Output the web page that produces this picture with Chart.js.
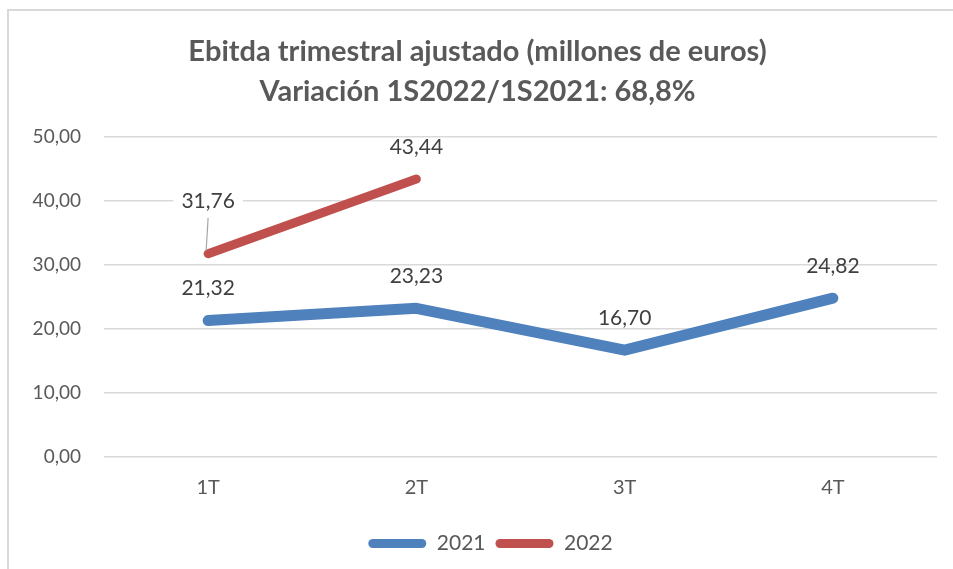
<!DOCTYPE html>
<html>
<head>
<meta charset="utf-8">
<script src="https://cdn.jsdelivr.net/npm/chart.js@4.4.1/dist/chart.umd.min.js"></script>
<style>
  html, body { margin: 0; padding: 0; background: #fff; overflow: hidden; }
  #frame {
    position: absolute; left: 7px; top: 9px;
    width: 1000px; height: 600px;
    border: 2px solid #d9d9d9;
  }
  #wrap { position: absolute; left: 0; top: 0; width: 953px; height: 569px; }
</style>
</head>
<body>
<div id="frame"></div>
<div id="wrap"><canvas id="chart"></canvas></div>
<script>
// Quarterly adjusted EBITDA.
const quarters = ['1T', '2T', '3T', '4T'];
const ebitda2021 = [21.32, 23.23, 16.70, 24.82];
const ebitda2022 = [31.76, 43.44, null, null];
const yTicks = [0, 10, 20, 30, 40, 50];
const titleLines = ['Ebitda trimestral ajustado (millones de euros)', 'Variación 1S2022/1S2021: 68,8%'];

const FONT = 'Lato, "Open Sans", sans-serif';
const fmt = v => v.toFixed(2).replace('.', ',');

// Draws the value labels above each point (Excel style).
// 2022 first point has a pulled-out label with a leader line.
const valueLabels = {
  id: 'valueLabels',
  afterLayout(chart) {
    // the original title and legend sit a bit right of centre
    if (chart.legend) chart.legend.left += 44;
    if (chart.titleBlock) chart.titleBlock.left += 18;
  },
  afterDatasetsDraw(chart) {
    const ctx = chart.ctx;
    ctx.save();
    ctx.font = '21px ' + FONT;
    ctx.textAlign = 'center';
    ctx.textBaseline = 'middle';
    chart.data.datasets.forEach((ds, di) => {
      const meta = chart.getDatasetMeta(di);
      meta.data.forEach((pt, i) => {
        const v = ds.data[i];
        if (v == null) return;
        const text = fmt(v);
        const pulled = di === 1 && i === 0;
        const off = pulled ? 53 : 32;
        const x = pt.x, y = pt.y - off;
        if (pulled) {
          const w = ctx.measureText(text).width;
          ctx.fillStyle = '#fff';
          ctx.fillRect(x - w / 2 - 8, y - 12, w + 16, 24);
          ctx.strokeStyle = '#a6a6a6';
          ctx.lineWidth = 1.2;
          ctx.beginPath();
          ctx.moveTo(x, y + 17);
          ctx.lineTo(x - 2, pt.y - 3);
          ctx.stroke();
        }
        ctx.fillStyle = '#404040';
        ctx.fillText(text, x, y);
      });
    });
    ctx.restore();
  }
};

new Chart(document.getElementById('chart'), {
  type: 'line',
  data: {
    labels: quarters,
    datasets: [
      {
        label: '2021',
        data: ebitda2021,
        borderColor: '#4f81bd',
        backgroundColor: '#4f81bd',
        borderWidth: 11,
        borderCapStyle: 'round',
        borderJoinStyle: 'round',
        pointRadius: 0,
        tension: 0,
      },
      {
        label: '2022',
        data: ebitda2022,
        borderColor: '#c0504d',
        backgroundColor: '#c0504d',
        borderWidth: 9,
        borderCapStyle: 'round',
        borderJoinStyle: 'round',
        pointRadius: 0,
        tension: 0,
      },
    ],
  },
  options: {
    responsive: true,
    maintainAspectRatio: false,
    animation: false,
    layout: { padding: { left: 0, right: 16, top: 32, bottom: 5 } },
    plugins: {
      title: {
        display: true,
        text: titleLines,
        color: '#595959',
        font: { family: FONT, size: 29, weight: 'bold', lineHeight: 1.38 },
        padding: { top: 0, bottom: 25 },
      },
      legend: {
        position: 'bottom',
        labels: {
          color: '#595959',
          font: { family: FONT, size: 21 },
          boxWidth: 58,
          boxHeight: 9,
          useBorderRadius: true,
          borderRadius: 4.5,
          padding: 10,
          generateLabels: (chart) =>
            Chart.defaults.plugins.legend.labels.generateLabels(chart)
              .map(l => Object.assign(l, { lineWidth: 0 })),
        },
      },
      tooltip: { enabled: false },
    },
    scales: {
      x: {
        offset: true,
        grid: { display: false, drawTicks: false },
        border: { display: false },
        ticks: {
          color: '#595959',
          font: { family: FONT, size: 20 },
          padding: 19,
        },
        afterFit: (s) => { s.height = 66; },
      },
      y: {
        min: 0,
        max: 50,
        afterBuildTicks: (s) => { s.ticks = yTicks.map(v => ({ value: v })); },
        grid: { color: '#d9d9d9', lineWidth: 1.5, drawTicks: false },
        border: { display: false },
        ticks: {
          color: '#595959',
          font: { family: FONT, size: 19 },
          padding: 23,
          callback: (v) => fmt(v),
        },
        afterFit: (s) => { s.width = 104; },
      },
    },
  },
  plugins: [valueLabels],
});
</script>
</body>
</html>
